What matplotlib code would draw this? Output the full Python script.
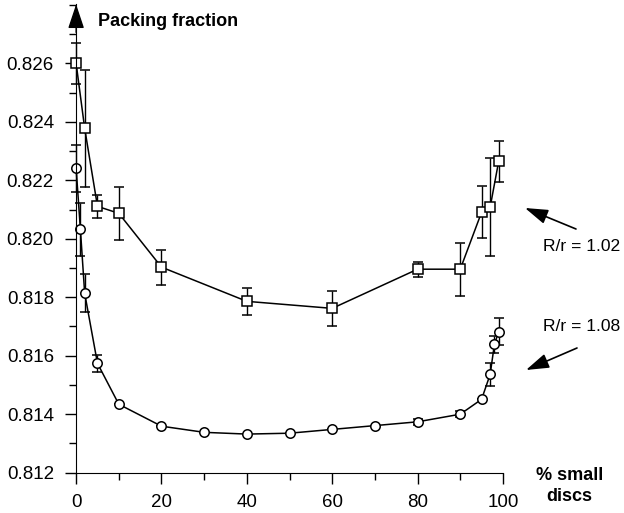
import numpy as np
import matplotlib.pyplot as plt
from matplotlib.ticker import MultipleLocator

plt.rcParams['font.family'] = ['Liberation Sans', 'DejaVu Sans']

# R/r = 1.02 (squares)
x_sq = [0, 2, 5, 10, 20, 40, 60, 80, 90, 95, 97, 99]
y_sq = [0.8260, 0.82378, 0.82111, 0.82087, 0.81903, 0.81786, 0.81762,
        0.81896, 0.81896, 0.82091, 0.82108, 0.82265]
e_sq = [0.0007, 0.0020, 0.0004, 0.0009, 0.0006, 0.00047, 0.0006,
        0.00025, 0.0009, 0.0009, 0.00167, 0.0007]

# R/r = 1.08 (circles)
x_ci = [0, 1, 2, 5, 10, 20, 30, 40, 50, 60, 70, 80, 90, 95, 97, 98, 99]
y_ci = [0.82241, 0.82032, 0.81814, 0.81574, 0.81434, 0.81359, 0.81338,
        0.81332, 0.81335, 0.81348, 0.81361, 0.81374, 0.8140, 0.81451,
        0.81536, 0.81639, 0.81682]
e_ci = [0.0008, 0.0009, 0.00065, 0.0003, 0, 0, 0, 0, 0, 0, 0, 0.0001,
        0.0001, 0, 0.0004, 0.0003, 0.00046]

fig = plt.figure(figsize=(6.24, 5.13), dpi=100)
ax = fig.add_axes([0.122, 0.0786, 0.684, 0.913])

style = dict(color='black', lw=1.1, ms=6.8, mfc='white', mec='black', mew=1.1,
             elinewidth=1.0, capsize=3.5, capthick=1.0)
for xs, ys, es, fmt in [(x_sq, y_sq, e_sq, '-s'), (x_ci, y_ci, e_ci, '-o')]:
    cont = ax.errorbar(xs, ys, yerr=es, fmt=fmt, **style)
    for art in cont.get_children():
        art.set_clip_on(False)

ax.set_xlim(0, 100)
ax.set_ylim(0.812, 0.82802)
ax.spines['top'].set_visible(False)
ax.spines['right'].set_visible(False)

ax.set_xticks([0, 20, 40, 60, 80, 100])
ax.xaxis.set_minor_locator(MultipleLocator(10))
ax.set_yticks([0.812, 0.814, 0.816, 0.818, 0.820, 0.822, 0.824, 0.826])
ax.set_yticklabels(['0.812', '0.814', '0.816', '0.818', '0.820', '0.822', '0.824', '0.826'])
ax.yaxis.set_minor_locator(MultipleLocator(0.001))
ax.tick_params(which='major', direction='out', length=8, width=1, labelsize=13.5)
ax.tick_params(which='minor', direction='out', length=5, width=1)
ax.tick_params(axis='x', pad=7)
ax.tick_params(axis='y', pad=8)

# y axis arrow
ax.annotate('', xy=(0, 1.0), xycoords='axes fraction', xytext=(0, 0.94),
            arrowprops=dict(arrowstyle='-|>,head_length=1.5,head_width=0.5',
                            color='black', lw=1, shrinkA=0, shrinkB=0))

fig.text(0.157, 0.958, 'Packing fraction', fontsize=13, fontweight='bold', va='center')
fig.text(0.913, 0.052, '% small\ndiscs', fontsize=13, fontweight='bold',
         va='center', ha='center', multialignment='center', linespacing=1.3)

fig.text(0.870, 0.519, 'R/r = 1.02', fontsize=12.6, va='center')
fig.text(0.870, 0.364, 'R/r = 1.08', fontsize=12.6, va='center')

ax.annotate('', xy=(525, 513 - 208), xycoords='figure pixels', xytext=(576, 513 - 229),
            textcoords='figure pixels',
            arrowprops=dict(arrowstyle='-|>,head_length=1.4,head_width=0.45',
                            color='black', lw=1.2, shrinkA=0, shrinkB=0))
ax.annotate('', xy=(526, 513 - 370), xycoords='figure pixels', xytext=(577, 513 - 348),
            textcoords='figure pixels',
            arrowprops=dict(arrowstyle='-|>,head_length=1.4,head_width=0.45',
                            color='black', lw=1.2, shrinkA=0, shrinkB=0))

fig.savefig('out.png', dpi=100)
